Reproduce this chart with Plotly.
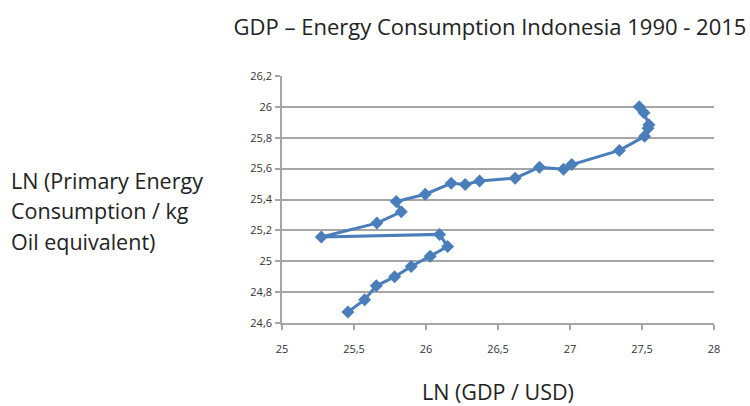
import plotly.graph_objects as go

# Indonesia, 1990-2015: natural logs of GDP (USD) and primary energy use (kg oil eq.)
years = list(range(1990, 2016))
ln_gdp = [25.458, 25.574, 25.655, 25.782, 25.897, 26.029, 26.150, 26.094,
          25.273, 25.659, 25.828, 25.793, 25.995, 26.175, 26.272, 26.372,
          26.619, 26.788, 26.955, 27.012, 27.343, 27.518, 27.542, 27.548,
          27.514, 27.481]
ln_energy = [24.671, 24.751, 24.841, 24.899, 24.966, 25.032, 25.095, 25.174,
             25.157, 25.247, 25.320, 25.387, 25.434, 25.505, 25.497, 25.520,
             25.538, 25.609, 25.596, 25.626, 25.718, 25.809, 25.862, 25.884,
             25.962, 26.001]

x_ticks = [25, 25.5, 26, 26.5, 27, 27.5, 28]
x_tick_text = ["25", "25,5", "26", "26,5", "27", "27,5", "28"]
y_ticks = [24.6, 24.8, 25, 25.2, 25.4, 25.6, 25.8, 26, 26.2]
y_tick_text = ["24,6", "24,8", "25", "25,2", "25,4", "25,6", "25,8", "26", "26,2"]

title_text = "GDP – Energy Consumption Indonesia 1990 - 2015"
y_label_lines = ["LN (Primary Energy", "Consumption / kg", "Oil equivalent)"]
x_label = "LN (GDP / USD)"

FONT = "Open Sans"
BLUE = "#4A7EBB"
GRID = "#A6A6A6"
TEXT = "#222222"

# plot area in pixels: x 282..714, y 76..323
L, R, T, B = 282, 36, 76, 83
PW, PH = 750 - L - R, 406 - T - B


def px_x(x):
    return (x - L) / PW


def px_y(y):
    return (406 - B - y) / PH


fig = go.Figure()
fig.add_trace(go.Scatter(
    x=ln_gdp, y=ln_energy, text=years,
    mode="lines+markers",
    line=dict(color=BLUE, width=3),
    marker=dict(symbol="diamond", size=10, color=BLUE),
    hovertemplate="%{text}: %{x}, %{y}<extra></extra>",
    showlegend=False,
))

axis_common = dict(
    showline=True, linecolor=GRID, linewidth=1.5,
    ticks="outside", ticklen=5, tickcolor=GRID, tickwidth=1.5,
    tickfont=dict(family=FONT, size=11, color="#333333"),
    zeroline=False,
)

fig.update_xaxes(range=[25, 28], tickvals=x_ticks, ticktext=x_tick_text,
                 showgrid=False, ticklabelstandoff=10, **axis_common)
fig.update_yaxes(range=[24.6, 26.2], tickvals=y_ticks, ticktext=y_tick_text,
                 showgrid=True, gridcolor=GRID, gridwidth=1.5,
                 ticklabelstandoff=1, **axis_common)

annotations = []
for i, line in enumerate(y_label_lines):
    annotations.append(dict(
        text=line, xref="paper", yref="paper",
        x=px_x(9), y=px_y(180 + 30.5 * i),
        xanchor="left", yanchor="middle", align="left", showarrow=False,
        font=dict(family=FONT, size=21.5, color=TEXT)))
annotations.append(dict(
    text=x_label, xref="paper", yref="paper",
    x=px_x(498), y=px_y(391),
    xanchor="center", yanchor="middle", showarrow=False,
    font=dict(family=FONT, size=21.5, color=TEXT)))

fig.update_layout(
    width=750, height=406,
    margin=dict(l=L, r=R, t=T, b=B),
    paper_bgcolor="white", plot_bgcolor="white",
    font=dict(family=FONT, color=TEXT),
    title=dict(text=title_text, xref="container", yref="container",
               x=490 / 750, y=1 - 27 / 406, xanchor="center", yanchor="middle",
               font=dict(family=FONT, size=22, color=TEXT)),
    annotations=annotations,
)

fig.write_html("out.html")
